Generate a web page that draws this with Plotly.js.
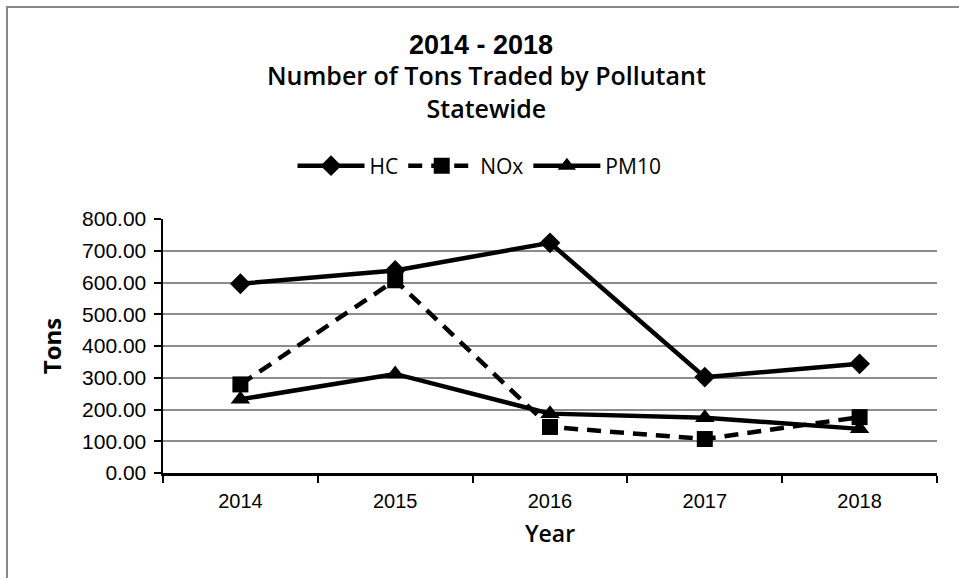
<!DOCTYPE html>
<html>
<head>
<meta charset="utf-8">
<script src="https://cdn.plot.ly/plotly-3.0.1.min.js"></script>
<style>
  html, body { margin: 0; padding: 0; background: #fff; }
  #wrap { position: relative; width: 959px; height: 578px; overflow: hidden; }
  #chart { position: absolute; left: 0; top: 0; width: 959px; height: 578px; }
  #frame { position: absolute; left: 6px; top: 6px; width: 1000px; height: 700px;
           border: 2px solid #888; pointer-events: none; }
</style>
</head>
<body>
<div id="wrap">
  <div id="chart"></div>
  <div id="frame"></div>
</div>
<script>
const years = ["2014", "2015", "2016", "2017", "2018"];
const hc   = [596, 638, 725, 302, 344];
const nox  = [279, 607, 145, 107, 176];
const pm10 = [232, 312, 187, 174, 139];
const yTicks = [0, 100, 200, 300, 400, 500, 600, 700, 800];

const NARROW = "Liberation Sans Narrow, Arial Narrow, Liberation Sans, Arial, sans-serif";
const SANS = "Liberation Sans, Arial, sans-serif";
const TITLE = "Open Sans, Lato, sans-serif";

const lineW = 4.5;
const traces = [
  { x: years, y: hc, name: "HC", type: "scatter", mode: "lines+markers",
    line: { color: "#000", width: lineW },
    marker: { symbol: "diamond", size: 16, color: "#000" } },
  { x: years, y: nox, name: "NOx", type: "scatter", mode: "lines+markers",
    line: { color: "#000", width: lineW, dash: "14px,9px" },
    marker: { symbol: "square", size: 16, color: "#000" } },
  { x: years, y: pm10, name: "PM10", type: "scatter", mode: "lines+markers",
    line: { color: "#000", width: lineW },
    marker: { symbol: "triangle-up", size: 17, color: "#000" } }
];

const layout = {
  width: 959, height: 578,
  margin: { l: 163, r: 22, t: 219, b: 105 },
  paper_bgcolor: "rgba(0,0,0,0)",
  plot_bgcolor: "#fff",
  showlegend: true,
  legend: {
    orientation: "h", x: 0.5, xanchor: "center", xref: "container",
    y: 1 - 166 / 578, yref: "container", yanchor: "middle",
    font: { family: TITLE, size: 21, color: "#000" },
    itemwidth: 67
  },
  xaxis: {
    type: "category",
    range: [-0.5, 4.5],
    tickson: "boundaries",
    ticks: "outside", ticklen: 7, tickwidth: 2, tickcolor: "#000",
    ticklabelstandoff: 8,
    showline: true, linecolor: "#000", linewidth: 2.5,
    showgrid: false, zeroline: false,
    tickfont: { family: NARROW, size: 20, color: "#000" },
    title: { text: "Year", standoff: 16,
             font: { family: TITLE, size: 23, color: "#000", weight: 600 } }
  },
  yaxis: {
    range: [0, 800],
    tickvals: yTicks,
    ticktext: yTicks.map(v => v.toFixed(2)),
    ticks: "outside", ticklen: 7, tickwidth: 2, tickcolor: "#000",
    ticklabelstandoff: 3,
    showline: true, linecolor: "#000", linewidth: 2.5,
    showgrid: true, gridcolor: "#8c8c8c", gridwidth: 2,
    zeroline: false,
    tickfont: { family: SANS, size: 21, color: "#000" },
    title: { text: "Tons", standoff: 14,
             font: { family: TITLE, size: 24, color: "#000", weight: 700 } }
  },
  annotations: [
    { text: "<b>2014 - 2018</b>", xref: "paper", yref: "paper", x: 0.411, y: 1,
      xanchor: "center", yanchor: "middle", showarrow: false,
      yshift: 174,
      font: { family: NARROW, size: 27, color: "#000" } },
    { text: "Number of Tons Traded by Pollutant<br>Statewide", xref: "paper", yref: "paper", x: 0.418, y: 1,
      xanchor: "center", yanchor: "middle", showarrow: false,
      yshift: 128,
      font: { family: TITLE, size: 25, color: "#000", weight: 600 } }
  ]
};

Plotly.newPlot("chart", traces, layout, { displayModeBar: false, staticPlot: true });
</script>
</body>
</html>
